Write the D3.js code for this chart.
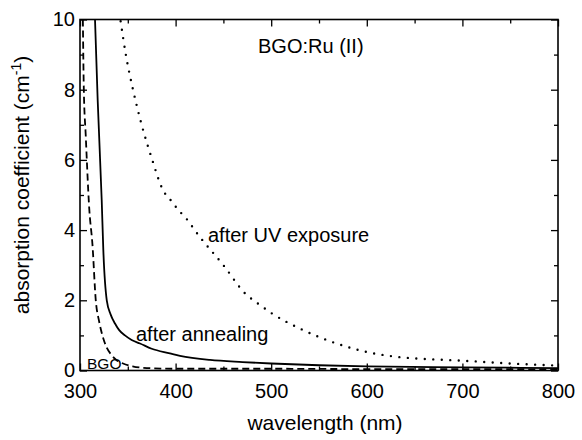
<!DOCTYPE html>
<html>
<head>
<meta charset="utf-8">
<script src="https://cdn.jsdelivr.net/npm/d3@7"></script>
<style>
  body { margin: 0; background: #fff; }
  text { font-family: Arial, "Liberation Sans", sans-serif; fill: #000; }
</style>
</head>
<body>
<div class="chart"></div>
<script>
// data (wavelength in nm, absorption in cm^-1)
const bgoWl  = [303, 304, 306, 309.7, 313, 316.5, 320, 324, 328, 333, 338, 345, 355, 370, 400, 450, 500, 600, 700, 800];
const bgoAbs = [10, 8, 6.7, 4.6, 3.6, 2.0, 1.4, 0.95, 0.65, 0.44, 0.3, 0.2, 0.12, 0.07, 0.05, 0.05, 0.05, 0.04, 0.04, 0.03];

const annWl  = [315.7, 318.5, 322.7, 324.4, 328, 332, 336.6, 341, 347, 354, 362.8, 375, 394, 404.6, 436, 470, 500, 550, 600, 700, 800];
const annAbs = [10, 7.7, 4.86, 3.43, 2.0, 1.6, 1.34, 1.15, 1.0, 0.87, 0.77, 0.62, 0.49, 0.42, 0.3, 0.24, 0.2, 0.15, 0.12, 0.09, 0.07];

const uvWl  = [342.5, 348, 355.8, 364.5, 375, 386.5, 393, 397, 402, 408, 425.5, 450, 472.6, 488, 500.5, 532, 563, 594.6, 631, 660, 700, 750, 800];
const uvAbs = [9.95, 8.99, 7.96, 7.0, 6.05, 5.16, 4.9, 4.8, 4.59, 4.43, 3.8, 3.0, 2.2, 1.87, 1.63, 1.17, 0.82, 0.56, 0.39, 0.33, 0.28, 0.2, 0.14];

const xTicks = [300, 400, 500, 600, 700, 800];
const xMinor = [350, 450, 550, 650, 750];
const yTicks = [0, 2, 4, 6, 8, 10];
const yMinor = [1, 3, 5, 7, 9];

const svgSize = { width: 582, height: 440 };
const margin = { top: 19.5, right: 24, bottom: 69.5, left: 80 };
const width  = svgSize.width  - margin.left - margin.right;
const height = svgSize.height - margin.top  - margin.bottom;

const svg = d3.select('.chart')
    .append('svg')
    .attr('width', svgSize.width)
    .attr('height', svgSize.height);

const graph = svg.append('g')
    .attr('transform', `translate(${margin.left}, ${margin.top})`);

const x = d3.scaleLinear().domain([300, 800]).range([0, width]);
const y = d3.scaleLinear().domain([0, 10]).range([height, 0]);

graph.append('clipPath').attr('id', 'clip')
    .append('rect').attr('width', width).attr('height', height);

// axes: major ticks with labels, minor ticks shorter, all pointing inward
const tickFont = 20;
const styleAxis = g => {
    g.select('.domain').remove();
    g.selectAll('line').attr('stroke', '#000').attr('stroke-width', 1.3);
    g.selectAll('text').style('font-size', tickFont + 'px').attr('fill', '#000');
};

graph.append('g').attr('transform', `translate(0, ${height})`)
    .call(d3.axisBottom(x).tickValues(xTicks).tickSize(-7).tickPadding(13).tickFormat(d3.format('d')))
    .call(styleAxis);
graph.append('g').attr('transform', `translate(0, ${height})`)
    .call(d3.axisBottom(x).tickValues(xMinor).tickSize(-4).tickFormat(''))
    .call(styleAxis);
graph.append('g')
    .call(d3.axisTop(x).tickValues(xTicks).tickSize(-7).tickFormat(''))
    .call(styleAxis);
graph.append('g')
    .call(d3.axisTop(x).tickValues(xMinor).tickSize(-4).tickFormat(''))
    .call(styleAxis);

graph.append('g')
    .call(d3.axisLeft(y).tickValues(yTicks).tickSize(-7).tickPadding(5).tickFormat(d3.format('d')))
    .call(styleAxis);
graph.append('g')
    .call(d3.axisLeft(y).tickValues(yMinor).tickSize(-4).tickFormat(''))
    .call(styleAxis);
graph.append('g').attr('transform', `translate(${width}, 0)`)
    .call(d3.axisRight(y).tickValues(yTicks).tickSize(-7).tickFormat(''))
    .call(styleAxis);
graph.append('g').attr('transform', `translate(${width}, 0)`)
    .call(d3.axisRight(y).tickValues(yMinor).tickSize(-4).tickFormat(''))
    .call(styleAxis);

graph.append('rect')
    .attr('width', width).attr('height', height)
    .attr('fill', 'none').attr('stroke', '#000').attr('stroke-width', 1.6);

// curves
const line = d3.line()
    .x(d => x(d[0]))
    .y(d => y(d[1]))
    .curve(d3.curveMonotoneX);

const series = [
    { wl: bgoWl, abs: bgoAbs, dash: '7 4', width: 1.8, cap: 'butt' },
    { wl: annWl, abs: annAbs, dash: null, width: 1.8, cap: 'butt' },
    { wl: uvWl,  abs: uvAbs,  dash: '0 8.5', width: 2.4, cap: 'round' },
];

graph.append('g').attr('clip-path', 'url(#clip)')
    .selectAll('path').data(series).enter()
    .append('path')
    .attr('d', s => line(s.wl.map((w, i) => [w, s.abs[i]])))
    .attr('fill', 'none')
    .attr('stroke', '#000')
    .attr('stroke-width', s => s.width)
    .attr('stroke-linecap', s => s.cap)
    .attr('stroke-dasharray', s => s.dash);

// annotations
const notes = [
    { text: 'BGO:Ru (II)',       x: 258, y: 53,  size: 20 },
    { text: 'after UV exposure', x: 208, y: 242, size: 20 },
    { text: 'after annealing',   x: 136, y: 341, size: 20 },
    { text: 'BGO',               x: 87,  y: 369, size: 15.5 },
];
svg.selectAll('text.note').data(notes).enter()
    .append('text').attr('class', 'note')
    .attr('x', d => d.x).attr('y', d => d.y)
    .style('font-size', d => d.size + 'px')
    .text(d => d.text);

// axis titles
const titleFont = 21;
svg.append('text')
    .attr('x', 325).attr('y', 430)
    .attr('text-anchor', 'middle')
    .style('font-size', titleFont + 'px')
    .text('wavelength (nm)');

const yTitle = svg.append('text')
    .attr('transform', 'translate(29, 185) rotate(-90)')
    .attr('text-anchor', 'middle')
    .style('font-size', titleFont + 'px');
yTitle.append('tspan').text('absorption coefficient (cm');
yTitle.append('tspan').attr('dy', -8).style('font-size', '14px').text('-1');
yTitle.append('tspan').attr('dy', 8).text(')');
</script>
</body>
</html>
